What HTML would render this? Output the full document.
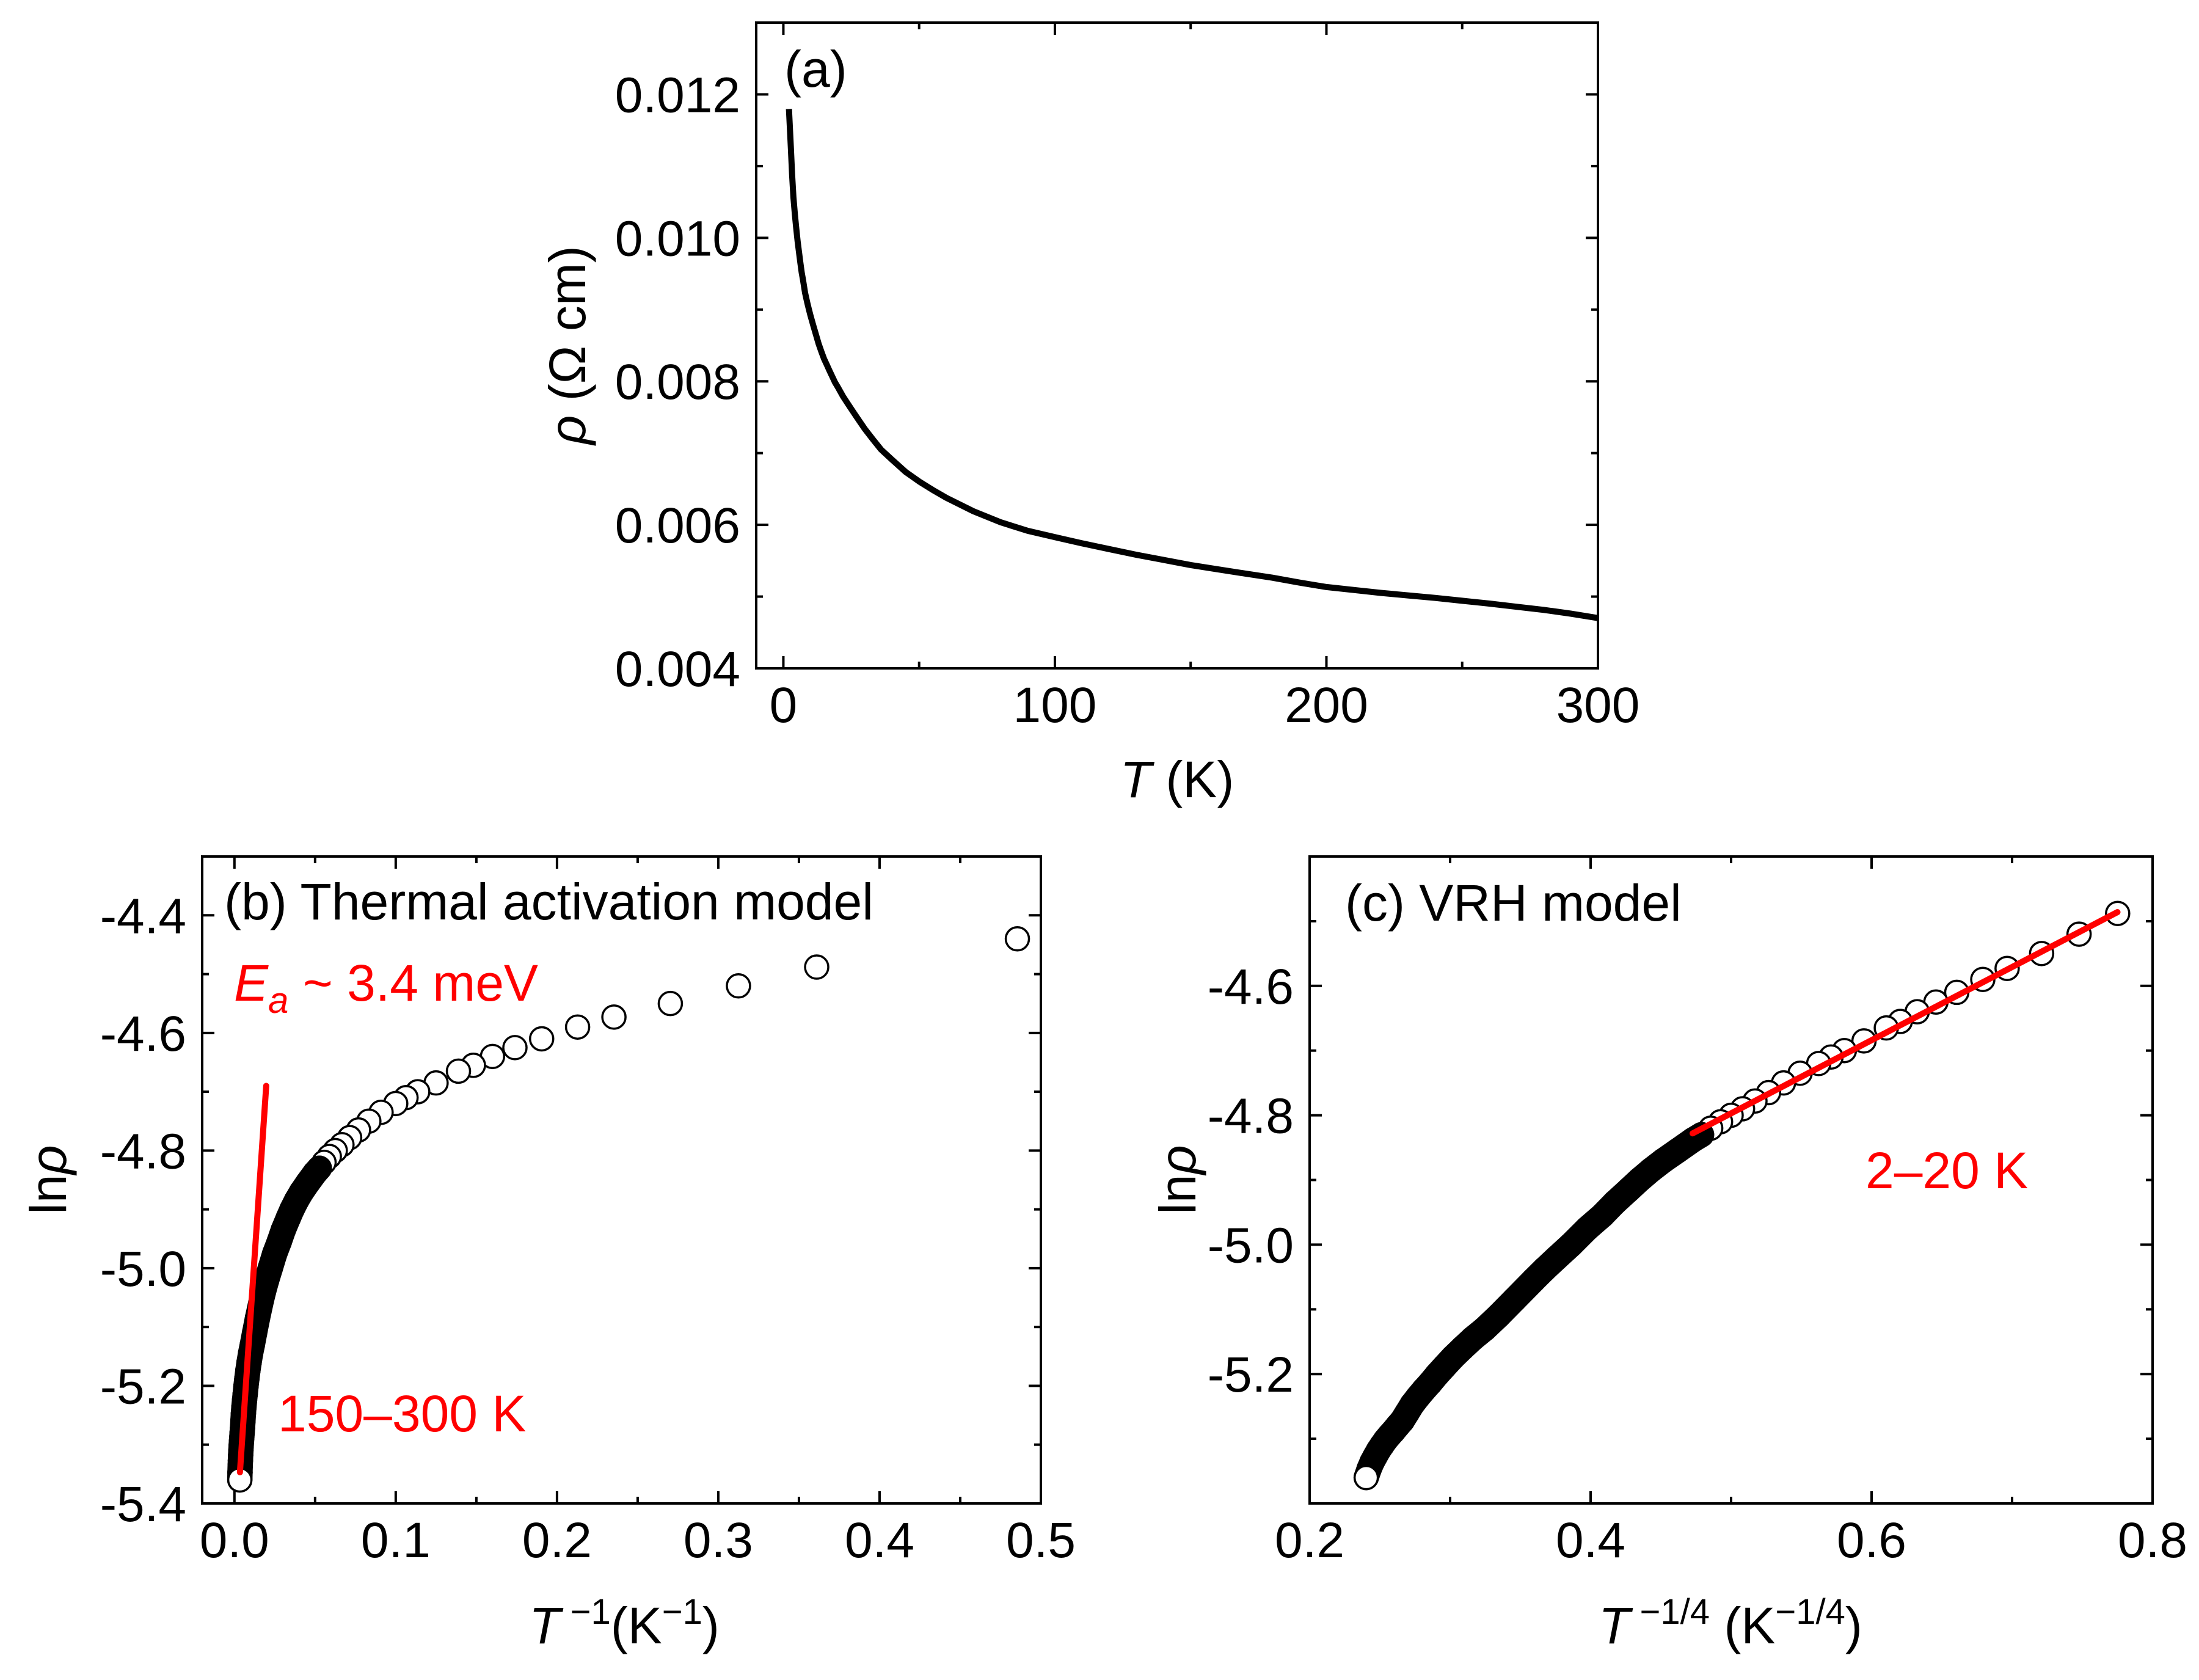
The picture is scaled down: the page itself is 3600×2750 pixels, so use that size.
<!DOCTYPE html>
<html><head><meta charset="utf-8"><style>
html,body{margin:0;padding:0;background:#fff;}
svg{display:block;font-family:"Liberation Sans",Arial,sans-serif;}
</style></head><body>
<svg id="fig" xmlns="http://www.w3.org/2000/svg" width="3600" height="2750" viewBox="0 0 3600 2750">
<rect width="3600" height="2750" fill="#fff"/>
<g id="layer"></g>
<text x="1284" y="142" font-size="84">(a)</text>
<text x="1927" y="1305" font-size="84" text-anchor="middle"><tspan font-style="italic">T</tspan> (K)</text>
<text transform="translate(958,565) rotate(-90)" font-size="84" text-anchor="middle"><tspan font-style="italic">ρ</tspan> (Ω cm)</text>
<text x="367" y="1505" font-size="84">(b) Thermal activation model</text>
<text x="383" y="1638" font-size="84" fill="#ff0000"><tspan font-style="italic">E</tspan><tspan font-style="italic" font-size="60" dy="20">a</tspan><tspan dy="-20"> ~ 3.4 meV</tspan></text>
<text x="455" y="2343" font-size="84" fill="#ff0000">150–300 K</text>
<text x="1022" y="2690" font-size="84" text-anchor="middle"><tspan font-style="italic">T</tspan><tspan font-size="58" dy="-32"> −1</tspan><tspan dy="32">(K</tspan><tspan font-size="58" dy="-32">−1</tspan><tspan dy="32">)</tspan></text>
<text transform="translate(108,1931) rotate(-90)" font-size="84" text-anchor="middle">ln<tspan font-style="italic">ρ</tspan></text>
<text x="2202" y="1507" font-size="84">(c) VRH model</text>
<text x="3054" y="1945" font-size="84" fill="#ff0000">2–20 K</text>
<text x="2833" y="2690" font-size="84" text-anchor="middle"><tspan font-style="italic">T</tspan><tspan font-size="58" dy="-32"> −1/4</tspan><tspan dy="32"> (K</tspan><tspan font-size="58" dy="-32">−1/4</tspan><tspan dy="32">)</tspan></text>
<text transform="translate(1957,1931) rotate(-90)" font-size="84" text-anchor="middle">ln<tspan font-style="italic">ρ</tspan></text>
</svg>
<script>
// ---- data ----
const temperatureK = [2.06,2.77,3.2,3.7,4.25,4.7,5.25,5.75,6.25,6.75,7.2,8,8.8,9.4,10,11,12,13,14,15,16,17,18,19,20,22,24,26,28,30,33,36,40,45,50,55,60,70,80,90,100,110,120,130,140,150,160,170,180,190,200,210,220,230,240,250,260,270,280,290,300];
const lnRho = [-4.44,-4.488,-4.52,-4.55,-4.573,-4.59,-4.61,-4.625,-4.64,-4.655,-4.665,-4.685,-4.70,-4.71,-4.72,-4.735,-4.75,-4.765,-4.778,-4.79,-4.80,-4.81,-4.82,-4.83,-4.838,-4.855,-4.87,-4.885,-4.90,-4.915,-4.935,-4.955,-4.975,-5.0,-5.02,-5.038,-5.055,-5.085,-5.11,-5.13,-5.145,-5.16,-5.174,-5.188,-5.201,-5.214,-5.225,-5.236,-5.247,-5.26,-5.272,-5.28,-5.288,-5.295,-5.302,-5.31,-5.318,-5.327,-5.336,-5.347,-5.36];
const denseFromK = 20;
const fitBx = [0.0034,0.0197];
const fitBy = [-5.347,-4.69];
const fitCx = [0.4726,0.775];
const fitCy = [-4.828,-4.486];
const aXMajor = [0,100,200,300], aXMinor = [50,150,250];
const aYMajor = [0.004,0.006,0.008,0.010,0.012], aYMinor = [0.005,0.007,0.009,0.011];
const aXLabels = ["0","100","200","300"], aYLabels = ["0.004","0.006","0.008","0.010","0.012"];
const bXMajor = [0,0.1,0.2,0.3,0.4,0.5], bXMinor = [0.05,0.15,0.25,0.35,0.45];
const bXLabels = ["0.0","0.1","0.2","0.3","0.4","0.5"];
const bYMajor = [-5.4,-5.2,-5.0,-4.8,-4.6,-4.4], bYMinor = [-5.3,-5.1,-4.9,-4.7,-4.5];
const bYLabels = ["-5.4","-5.2","-5.0","-4.8","-4.6","-4.4"];
const cXMajor = [0.2,0.4,0.6,0.8], cXMinor = [0.3,0.5,0.7];
const cXLabels = ["0.2","0.4","0.6","0.8"];
const cYMajor = [-5.4,-5.2,-5.0,-4.8,-4.6,-4.4], cYMinor = [-5.3,-5.1,-4.9,-4.7,-4.5];
const cYLabels = ["","-5.2","-5.0","-4.8","-4.6",""];

const NS = "http://www.w3.org/2000/svg";
const layer = document.getElementById("layer");
function mk(tag, attrs, parent){
  const e = document.createElementNS(NS, tag);
  for (const k in attrs) e.setAttribute(k, attrs[k]);
  (parent||layer).appendChild(e);
  return e;
}
function panel(p){
  p.sx = v => p.x0 + (v - p.xd[0]) / (p.xd[1] - p.xd[0]) * (p.x1 - p.x0);
  p.sy = v => p.y1 - (v - p.yd[0]) / (p.yd[1] - p.yd[0]) * (p.y1 - p.y0);
  return p;
}
const A = panel({name:"a", x0:1238,x1:2616,y0:37,y1:1094,xd:[-10,300],yd:[0.004,0.013]});
const B = panel({name:"b", x0:331,x1:1704,y0:1402,y1:2461,xd:[-0.02,0.5],yd:[-5.4,-4.3]});
const C = panel({name:"c", x0:2144,x1:3524,y0:1402,y1:2461,xd:[0.2,0.8],yd:[-5.4,-4.4]});

function axes(p, xMaj, xMin, yMaj, yMin, xLab, yLab){
  const g = mk("g", {});
  
  
  const L = 20, l = 11, sw = 4;
  const tick = (x1,y1,x2,y2) => mk("line",{x1,y1,x2,y2,stroke:"#000","stroke-width":sw}, g);
  xMaj.forEach((v,i) => {
    const x = p.sx(v);
    tick(x,p.y1,x,p.y1-L); tick(x,p.y0,x,p.y0+L);
    if (xLab[i]) {
      const t = mk("text",{x:x,y:p.y1+88,"font-size":82,"text-anchor":"middle"}, g);
      
      
      t.textContent = xLab[i];
    }
  });
  xMin.forEach(v => { const x = p.sx(v); tick(x,p.y1,x,p.y1-l); tick(x,p.y0,x,p.y0+l); });
  yMaj.forEach((v,i) => {
    const y = p.sy(v);
    tick(p.x0,y,p.x0+L,y); tick(p.x1,y,p.x1-L,y);
    if (yLab[i]) {
      const t = mk("text",{x:p.x0-26,y:y+29,"font-size":82,"text-anchor":"end"}, g);
      
      
      t.textContent = yLab[i];
    }
  });
  yMin.forEach(v => { const y = p.sy(v); tick(p.x0,y,p.x0+l,y); tick(p.x1,y,p.x1-l,y); });
  const fr = mk("rect",{x:p.x0,y:p.y0,width:p.x1-p.x0,height:p.y1-p.y0,fill:"none",stroke:"#000","stroke-width":sw}, g);
  
  
}
axes(A, aXMajor, aXMinor, aYMajor, aYMinor, aXLabels, aYLabels);
axes(B, bXMajor, bXMinor, bYMajor, bYMinor, bXLabels, bYLabels);
axes(C, cXMajor, cXMinor, cYMajor, cYMinor, cXLabels, cYLabels);

let d = "";
temperatureK.forEach((T,i) => { d += (i ? "L" : "M") + A.sx(T).toFixed(1) + " " + A.sy(Math.exp(lnRho[i])).toFixed(1); });
const curveA = mk("path",{d:d,fill:"none",stroke:"#000","stroke-width":10,"stroke-linejoin":"round"});



function scatter(p, xs, ys, clipId){
  const cp = mk("clipPath",{id:clipId});
  mk("rect",{x:p.x0,y:p.y0,width:p.x1-p.x0,height:p.y1-p.y0}, cp);
  const g = mk("g",{"clip-path":"url(#"+clipId+")"});
  
  
  const r = 19;
  const pts = xs.map((x,i) => [p.sx(x), p.sy(ys[i])]);
  pts.forEach((pt,i) => {
    const c = mk("circle",{cx:pt[0],cy:pt[1],r:r,fill:"#fff",stroke:"#000","stroke-width":3.5}, g);
    
    
    if (i < pts.length-1 && temperatureK[i+1] >= denseFromK) {
      const q = pts[i+1];
      mk("line",{x1:pt[0],y1:pt[1],x2:q[0],y2:q[1],stroke:"#000","stroke-width":2*r+3.5,"stroke-linecap":"round"}, g);
    }
  });
}
scatter(B, temperatureK.map(T => 1/T), lnRho, "clipB");
scatter(C, temperatureK.map(T => Math.pow(T,-0.25)), lnRho, "clipC");

const fb = mk("line",{x1:B.sx(fitBx[0]),y1:B.sy(fitBy[0]),x2:B.sx(fitBx[1]),y2:B.sy(fitBy[1]),stroke:"#ff0000","stroke-width":10,"stroke-linecap":"round"});


const fc = mk("line",{x1:C.sx(fitCx[0]),y1:C.sy(fitCy[0]),x2:C.sx(fitCx[1]),y2:C.sy(fitCy[1]),stroke:"#ff0000","stroke-width":10,"stroke-linecap":"round"});


</script>
</body></html>
